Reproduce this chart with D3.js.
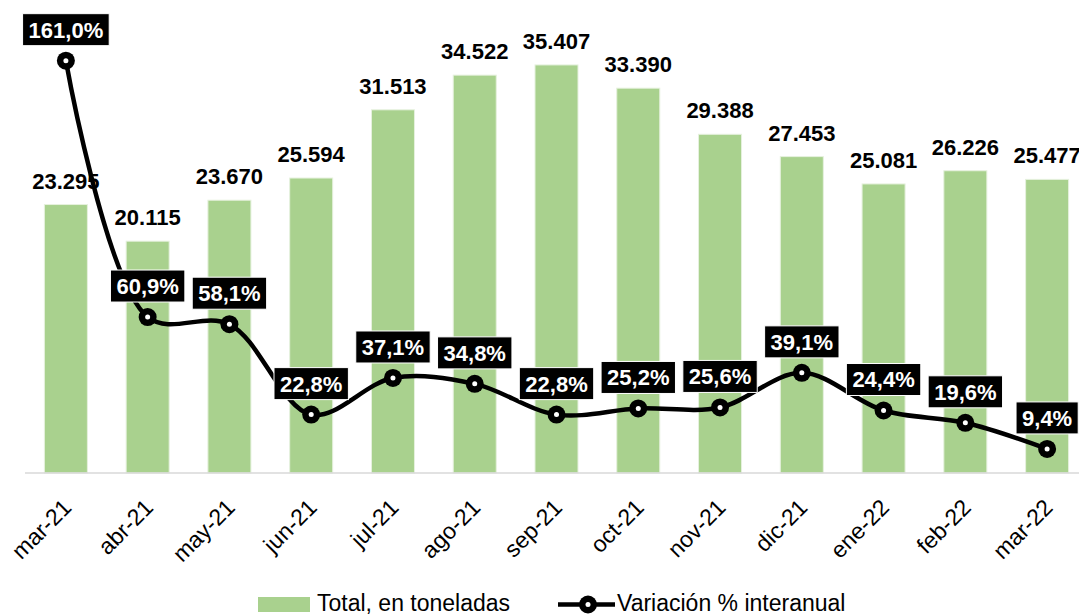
<!DOCTYPE html>
<html>
<head>
<meta charset="utf-8">
<script src="https://cdn.jsdelivr.net/npm/d3@7"></script>
<style>
  body { margin: 0; background: #fff; }
  text { font-family: Arial, "Liberation Sans", sans-serif; }
</style>
</head>
<body>
<svg id="chart" width="1079" height="616"></svg>
<script>
// ─── Data ─────────────────────────────────────────────────────────────────────
const months = ["mar-21", "abr-21", "may-21", "jun-21", "jul-21", "ago-21", "sep-21",
                "oct-21", "nov-21", "dic-21", "ene-22", "feb-22", "mar-22"];
const toneladas = [23295, 20115, 23670, 25594, 31513, 34522, 35407, 33390, 29388, 27453, 25081, 26226, 25477];
const variacion = [161.0, 60.9, 58.1, 22.8, 37.1, 34.8, 22.8, 25.2, 25.6, 39.1, 24.4, 19.6, 9.4];
const legendLabels = ["Total, en toneladas", "Variación % interanual"];

const BAR_COLOR = "#a9d18e";

const svg = d3.select("#chart");
const baseY = 473, topY = 12;

const x = d3.scaleBand().domain(months).range([25, 1088]).paddingInner(0.474).paddingOuter(0.237);
const yBar = d3.scaleLinear().domain([0, 40000]).range([baseY, topY]);
const yPct = d3.scaleLinear().domain([0, 180]).range([baseY, topY]);

const fmtTon = d3.formatLocale({ decimal: ",", thousands: ".", grouping: [3], currency: ["", ""] }).format(",d");
const fmtPct = v => v.toFixed(1).replace(".", ",") + "%";

const data = months.map((m, i) => ({ m, t: toneladas[i], p: variacion[i] }));
const cx = d => x(d.m) + x.bandwidth() / 2;

// bars
svg.append("g").selectAll("rect")
    .data(data)
    .join("rect")
    .attr("x", d => x(d.m))
    .attr("y", d => yBar(d.t))
    .attr("width", x.bandwidth())
    .attr("height", d => baseY - yBar(d.t))
    .attr("fill", BAR_COLOR)
    .attr("stroke", "#e6f1de")
    .attr("stroke-width", 1);

// axis line
svg.append("line")
    .attr("x1", 25).attr("x2", 1079)
    .attr("y1", baseY).attr("y2", baseY)
    .attr("stroke", "#d9d9d9").attr("stroke-width", 1.5);

// x labels, rotated
svg.append("g").selectAll("text")
    .data(data)
    .join("text")
    .attr("transform", d => `translate(${cx(d) + 7},509) rotate(-45)`)
    .attr("text-anchor", "end")
    .attr("font-size", 23)
    .attr("fill", "#000")
    .text(d => d.m);

// bar value labels
svg.append("g").selectAll("text")
    .data(data)
    .join("text")
    .attr("x", cx)
    .attr("y", d => yBar(d.t) - 16)
    .attr("text-anchor", "middle")
    .attr("font-size", 22)
    .attr("font-weight", "bold")
    .attr("fill", "#000")
    .text(d => fmtTon(d.t));

// line
const line = d3.line()
    .x(cx)
    .y(d => yPct(d.p))
    .curve(d3.curveCatmullRom.alpha(0.5));

svg.append("path")
    .datum(data)
    .attr("d", line)
    .attr("fill", "none")
    .attr("stroke", "#000")
    .attr("stroke-width", 4.5);

const marks = svg.append("g").selectAll("g")
    .data(data)
    .join("g")
    .attr("transform", d => `translate(${cx(d)},${yPct(d.p)})`);
marks.append("circle").attr("r", 9).attr("fill", "#000");
marks.append("circle").attr("r", 2.5).attr("fill", "#fff");

// percentage boxes
const boxes = svg.append("g").selectAll("g")
    .data(data)
    .join("g")
    .attr("transform", d => `translate(${cx(d)},${yPct(d.p) - 31})`);

boxes.each(function(d) {
    const g = d3.select(this);
    const rect = g.append("rect");
    const t = g.append("text")
        .attr("text-anchor", "middle")
        .attr("dy", "0.36em")
        .attr("font-size", 22)
        .attr("font-weight", "bold")
        .attr("fill", "#fff")
        .text(fmtPct(d.p));
    const w = t.node().getComputedTextLength() + 12;
    rect.attr("x", -w / 2).attr("y", -16).attr("width", w).attr("height", 32)
        .attr("fill", "#000").attr("stroke", "#fff").attr("stroke-width", 1);
});

// legend
const lg = svg.append("g");
lg.append("rect").attr("x", 258).attr("y", 597).attr("width", 52).attr("height", 15).attr("fill", BAR_COLOR);
lg.append("text").attr("x", 317).attr("y", 611).attr("font-size", 23).text(legendLabels[0]);
lg.append("line").attr("x1", 558).attr("x2", 615).attr("y1", 604.5).attr("y2", 604.5)
    .attr("stroke", "#000").attr("stroke-width", 4.5);
lg.append("circle").attr("cx", 588).attr("cy", 604.5).attr("r", 9).attr("fill", "#000");
lg.append("circle").attr("cx", 588).attr("cy", 604.5).attr("r", 2.5).attr("fill", "#fff");
lg.append("text").attr("x", 617).attr("y", 611).attr("font-size", 23).text(legendLabels[1]);
</script>
</body>
</html>
